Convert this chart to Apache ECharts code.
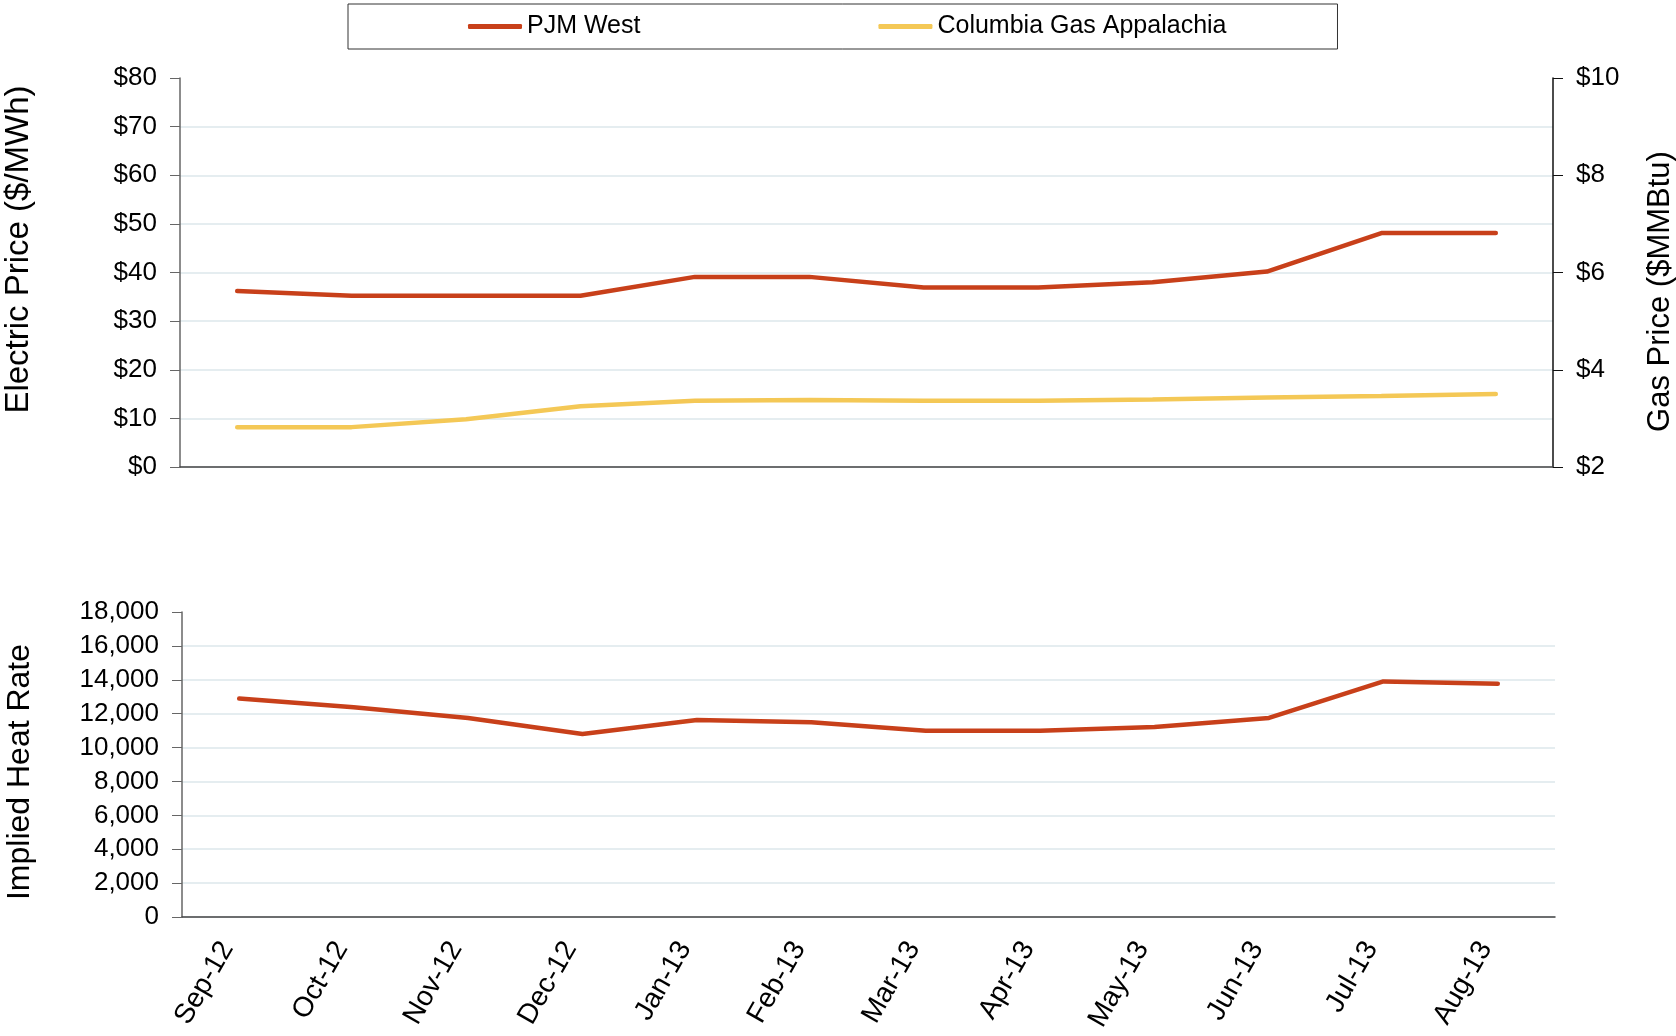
<!DOCTYPE html>
<html>
<head>
<meta charset="utf-8">
<script src="https://cdn.jsdelivr.net/npm/echarts@6/dist/echarts.min.js"></script>
<style>
  html, body { margin: 0; padding: 0; background: #fff; }
  #chart { width: 1676px; height: 1036px; }
</style>
</head>
<body>
<div id="chart"></div>
<script>
// data
const months = ['Sep-12', 'Oct-12', 'Nov-12', 'Dec-12', 'Jan-13', 'Feb-13',
  'Mar-13', 'Apr-13', 'May-13', 'Jun-13', 'Jul-13', 'Aug-13'];
const pjmWest = [36.2, 35.2, 35.2, 35.2, 39.1, 39.1, 36.9, 36.9, 38.0, 40.2, 48.1, 48.1];
const columbiaGas = [2.82, 2.82, 2.98, 3.25, 3.36, 3.38, 3.36, 3.36, 3.39, 3.43, 3.46, 3.50];
const heatRate = [12890, 12380, 11750, 10800, 11620, 11500, 10990, 10990, 11220, 11750, 13900, 13770];
const elecTicks = [0, 80, 10];
const gasTicks = [2, 10, 2];
const heatTicks = [0, 18000, 2000];

const RED = '#C8401A';
const YELLOW = '#F4C856';
const FONT = 'Arial, "Liberation Sans", sans-serif';
const GRIDLINE = '#DCE7EB';

const chart = echarts.init(document.getElementById('chart'));

const tickLabel = { color: '#000', fontSize: 26, fontFamily: FONT };
const nameStyle = { color: '#000', fontFamily: FONT };

const option = {
  animation: false,
  textStyle: { fontFamily: FONT },
  legend: {
    data: ['PJM West', 'Columbia Gas Appalachia'],
    left: 348,
    top: 4,
    padding: [10, 111, 10, 120],
    borderColor: '#333',
    borderWidth: 1,
    icon: 'roundRect',
    itemWidth: 54,
    itemHeight: 5,
    itemGap: 238,
    textStyle: { color: '#000', fontSize: 25, fontFamily: FONT }
  },
  grid: [
    { left: 180, right: 123, top: 78, height: 389, outerBoundsMode: 'none', containLabel: false },
    { left: 182, right: 121, top: 612, height: 305, outerBoundsMode: 'none', containLabel: false }
  ],
  xAxis: [
    {
      type: 'category', gridIndex: 0, data: months, boundaryGap: true,
      axisLine: { lineStyle: { color: '#444', width: 1.5 } },
      axisTick: { length: 8, lineStyle: { color: '#444' } },
      axisLabel: { show: false }
    },
    {
      type: 'category', gridIndex: 1, data: months, boundaryGap: true,
      axisLine: { lineStyle: { color: '#444', width: 1.5 } },
      axisTick: { length: 8, lineStyle: { color: '#444' } },
      axisLabel: Object.assign({}, tickLabel, {
        rotate: 60, margin: 34, interval: 0, fontSize: 28, verticalAlign: 'bottom'
      })
    }
  ],
  yAxis: [
    {
      type: 'value', gridIndex: 0,
      min: elecTicks[0], max: elecTicks[1], interval: elecTicks[2],
      name: 'Electric Price ($/MWh)', nameLocation: 'middle', nameRotate: 90, nameGap: 145,
      nameTextStyle: Object.assign({ fontSize: 33, padding: [0, 0, 0, 46] }, nameStyle),
      axisLine: { show: true, lineStyle: { color: '#666', width: 1.5 } },
      axisTick: { show: true, length: 10, lineStyle: { color: '#666' } },
      axisLabel: Object.assign({ margin: 23, formatter: v => '$' + v }, tickLabel),
      splitLine: { show: true, showMaxLine: false, lineStyle: { color: GRIDLINE, width: 1.5 } }
    },
    {
      type: 'value', gridIndex: 0, position: 'right',
      min: gasTicks[0], max: gasTicks[1], interval: gasTicks[2],
      name: 'Gas Price ($MMBtu)', nameLocation: 'middle', nameRotate: 90, nameGap: 92,
      nameTextStyle: Object.assign({ fontSize: 31, padding: [0, 38, 0, 0] }, nameStyle),
      axisLine: { show: true, lineStyle: { color: '#111', width: 1.5 } },
      axisTick: { show: true, length: 10, lineStyle: { color: '#111' } },
      axisLabel: Object.assign({ margin: 23, formatter: v => '$' + v }, tickLabel),
      splitLine: { show: false }
    },
    {
      type: 'value', gridIndex: 1,
      min: heatTicks[0], max: heatTicks[1], interval: heatTicks[2],
      name: 'Implied Heat Rate', nameLocation: 'middle', nameRotate: 90, nameGap: 146,
      nameTextStyle: Object.assign({ fontSize: 32, padding: [0, 15, 0, 0] }, nameStyle),
      axisLine: { show: true, lineStyle: { color: '#666', width: 1.5 } },
      axisTick: { show: true, length: 10, lineStyle: { color: '#666' } },
      axisLabel: Object.assign({ margin: 23, formatter: v => v.toLocaleString('en-US') }, tickLabel),
      splitLine: { show: true, showMaxLine: false, lineStyle: { color: GRIDLINE, width: 1.5 } }
    }
  ],
  series: [
    {
      name: 'PJM West', type: 'line', xAxisIndex: 0, yAxisIndex: 0,
      data: pjmWest, symbol: 'none', color: RED,
      lineStyle: { width: 4.5, color: RED, cap: 'round' }
    },
    {
      name: 'Columbia Gas Appalachia', type: 'line', xAxisIndex: 0, yAxisIndex: 1,
      data: columbiaGas, symbol: 'none', color: YELLOW,
      lineStyle: { width: 4.5, color: YELLOW, cap: 'round' }
    },
    {
      name: 'Implied Heat Rate', type: 'line', xAxisIndex: 1, yAxisIndex: 2,
      data: heatRate, symbol: 'none', color: RED,
      lineStyle: { width: 4.5, color: RED, cap: 'round' }
    }
  ]
};

chart.setOption(option);
</script>
</body>
</html>
